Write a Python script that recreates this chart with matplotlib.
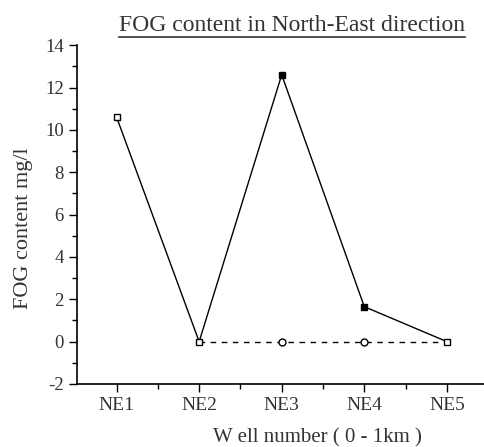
import numpy as np
import matplotlib.pyplot as plt
from matplotlib.ticker import MultipleLocator

plt.rcParams['font.family'] = ['Liberation Serif', 'DejaVu Serif']
plt.rcParams['axes.unicode_minus'] = False

wells = ['NE1', 'NE2', 'NE3', 'NE4', 'NE5']
fog = [10.6, 0.0, 12.6, 1.65, 0.0]
fog_filled = [False, False, True, True, False]
baseline_wells = ['NE2', 'NE3', 'NE4', 'NE5']
baseline = [0.0, 0.0, 0.0, 0.0]

x = np.arange(1, len(wells) + 1)
xb = np.array([wells.index(w) + 1 for w in baseline_wells])

fig = plt.figure(figsize=(4.84, 4.47), dpi=100)
ax = fig.add_axes([0.159, 0.141, 0.841, 0.758])

txt_col = '#333333'

# dashed zero line with open circles
ax.plot(xb, baseline, color='black', lw=1, ls=(0, (4, 4)), zorder=2)
ax.plot(xb[1:-1], baseline[1:-1], 'o', ms=5, mfc='white', mec='black', mew=1, zorder=3)

# solid line with squares
ax.plot(x, fog, color='black', lw=1, zorder=2)
for xi, yi, f in zip(x, fog, fog_filled):
    ax.plot(xi, yi, 's', ms=5, mfc='black' if f else 'white', mec='black', mew=1, zorder=4)

ax.set_xlim(0.52, 5.45)
ax.set_ylim(-2, 14)
ax.set_xticks(x)
ax.set_xticklabels(wells)
ax.xaxis.set_minor_locator(MultipleLocator(0.5))
ax.yaxis.set_major_locator(MultipleLocator(2))
ax.yaxis.set_minor_locator(MultipleLocator(1))

for s in ['top', 'right']:
    ax.spines[s].set_visible(False)
for s in ['left', 'bottom']:
    ax.spines[s].set_linewidth(1.2)

ax.tick_params(which='major', direction='out', length=6, width=1, labelsize=13.5, labelcolor=txt_col)
ax.tick_params(axis='x', which='major', labelsize=14)
ax.tick_params(which='minor', direction='out', length=3.5, width=1)

ax.set_ylabel('FOG content mg/l', fontsize=16, color=txt_col)
ax.set_xlabel('W ell number ( 0 - 1km )', fontsize=15, color=txt_col)
ax.yaxis.set_label_coords(-0.108, 0.46)
ax.xaxis.set_label_coords(0.59, -0.13)

# underlined title
title = fig.text(0.604, 0.93, 'FOG content in North-East direction',
                 ha='center', va='baseline', fontsize=17, color=txt_col)
fig.canvas.draw()
bb = title.get_window_extent().transformed(fig.transFigure.inverted())
fig.add_artist(plt.Line2D([bb.x0, bb.x1], [0.917, 0.917],
                          transform=fig.transFigure, color=txt_col, lw=1.2))

fig.savefig('out.png', dpi=100)
